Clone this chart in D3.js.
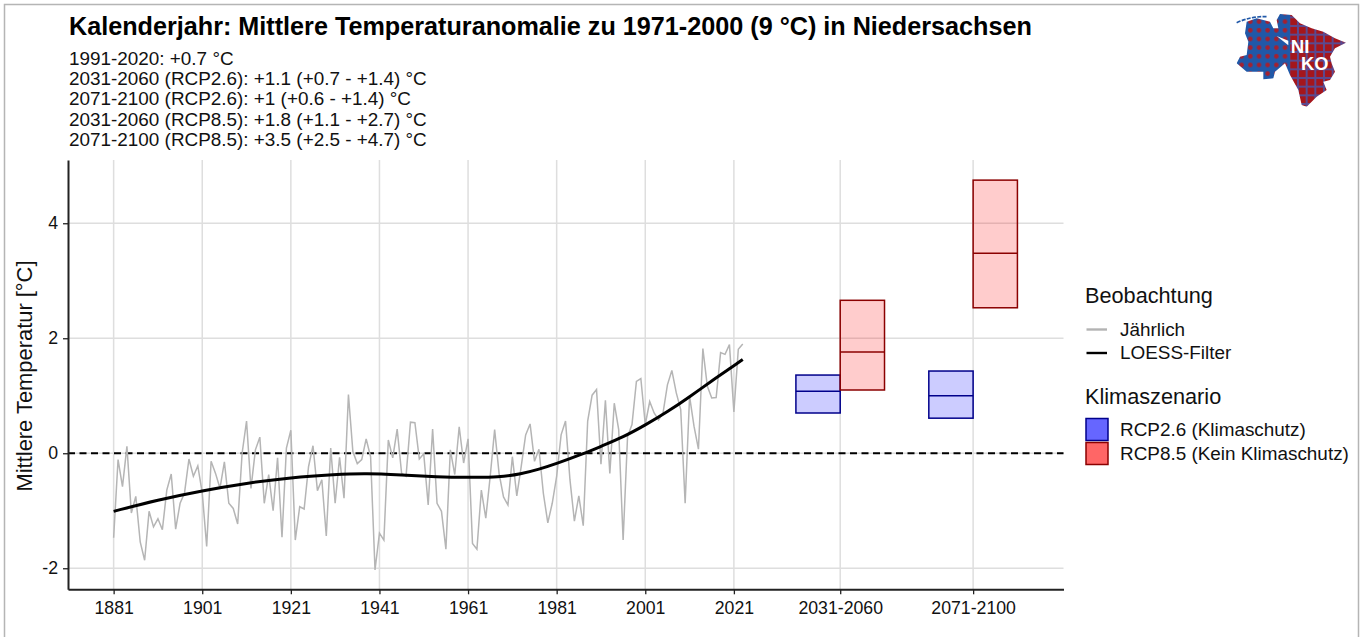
<!DOCTYPE html>
<html>
<head>
<meta charset="utf-8">
<script src="https://cdn.jsdelivr.net/npm/d3@7"></script>
<style>
  body { margin: 0; background: #fff; }
  text { font-family: "Liberation Sans", Arial, sans-serif; fill: #111; }
</style>
</head>
<body>
<svg></svg>
<script>
var titleText = "Kalenderjahr: Mittlere Temperaturanomalie zu 1971-2000 (9 °C) in Niedersachsen";
var subtitleLines = [
    "1991-2020: +0.7 °C",
    "2031-2060 (RCP2.6): +1.1 (+0.7 - +1.4) °C",
    "2071-2100 (RCP2.6): +1 (+0.6 - +1.4) °C",
    "2031-2060 (RCP8.5): +1.8 (+1.1 - +2.7) °C",
    "2071-2100 (RCP8.5): +3.5 (+2.5 - +4.7) °C"
];

// yearly anomaly 1881..2023
var firstYear = 1881;
var annual = [
    -1.47, -0.11, -0.58, 0.12, -1.04, -0.75, -1.54, -1.86, -1.01, -1.28,
    -1.14, -1.33, -0.64, -0.36, -1.32, -0.87, -0.69, -0.10, -0.40, -0.22,
    -0.69, -1.62, -0.14, -0.35, -0.61, -0.15, -0.87, -0.96, -1.23, 0.00,
    0.56, -0.61, 0.06, 0.28, -0.87, -0.37, -1.00, -0.08, -1.46, 0.09,
    0.40, -1.51, -0.93, -0.97, -0.23, 0.13, -0.65, -0.46, -1.44, 0.09,
    -0.87, -0.07, -0.78, 1.02, 0.03, -0.18, -0.11, 0.25, -0.06, -2.03,
    -1.39, -1.51, 0.23, -0.08, 0.42, -0.35, -0.40, 0.54, 0.53, -0.10,
    -0.01, -0.90, 0.42, -0.87, -1.01, -1.67, 0.06, -0.37, 0.46, -0.17,
    0.25, -1.57, -1.67, -0.64, -1.13, -0.40, 0.41, -0.35, -0.76, -0.90,
    -0.06, -0.74, -0.23, 0.32, 0.51, -0.14, 0.07, -0.70, -1.21, -0.87,
    -0.40, 0.32, 0.56, -0.46, -1.18, -0.74, -1.26, 0.56, 1.01, 1.11,
    -0.19, 0.92, -0.35, 0.87, 0.41, -1.51, 0.29, 0.50, 1.25, 1.30,
    0.50, 0.90, 0.70, 0.58, 0.70, 1.19, 1.44, 1.05, 0.76, -0.87,
    0.99, 0.47, 0.07, 1.82, 1.17, 0.96, 0.97, 1.75, 1.72, 1.89,
    0.72, 1.81, 1.90
];

var loessYears = [1881, 1891, 1901, 1911, 1921, 1931, 1938, 1946, 1954, 1961, 1968, 1973, 1977, 1981, 1987, 1991, 1996, 2001, 2006, 2011, 2016, 2021, 2023];
var loessValues = [-1.01, -0.81, -0.65, -0.52, -0.42, -0.37, -0.35, -0.38, -0.41, -0.42, -0.42, -0.36, -0.28, -0.18, -0.01, 0.12, 0.28, 0.49, 0.72, 0.98, 1.26, 1.52, 1.63];

var periodCenters = [2045, 2075];
var periodLabels = ["2031-2060", "2071-2100"];
// low, median, high per period
var rcp26Low = [0.70, 0.61], rcp26Mid = [1.08, 1.00], rcp26High = [1.36, 1.43];
var rcp85Low = [1.10, 2.53], rcp85Mid = [1.76, 3.48], rcp85High = [2.66, 4.75];

var yearTicks = [1881, 1901, 1921, 1941, 1961, 1981, 2001, 2021];
var yTicks = [-2, 0, 2, 4];

var svg = d3.select("svg").attr("width", 1363).attr("height", 637).style("display", "block");

var panel = { left: 68, right: 1063.5, top: 160, bottom: 589.3 };

var xScale = d3.scaleLinear().domain([1870.7, 2095.4]).range([panel.left, panel.right]);
var yScale = d3.scaleLinear().domain([-2.366, 5.1]).range([panel.bottom, panel.top]);

// grey frame of the screenshot, open at the bottom
svg.append("path")
    .attr("d", "M4.5,637V4.5H1358.5V637")
    .style("fill", "none")
    .style("stroke", "#b5b5b5")
    .style("stroke-width", 1.5);

// grid
var gridColor = "#dedede";
svg.append("g").selectAll("line")
    .data(yTicks)
    .enter().append("line")
    .attr("x1", panel.left).attr("x2", panel.right)
    .attr("y1", function (d) { return yScale(d); })
    .attr("y2", function (d) { return yScale(d); })
    .style("stroke", gridColor).style("stroke-width", 1.5);

svg.append("g").selectAll("line")
    .data(yearTicks.concat(periodCenters))
    .enter().append("line")
    .attr("y1", panel.top).attr("y2", panel.bottom)
    .attr("x1", function (d) { return xScale(d); })
    .attr("x2", function (d) { return xScale(d); })
    .style("stroke", gridColor).style("stroke-width", 1.5);

// scenario boxes
function drawBoxes(low, mid, high, from, to, fill, stroke) {
    var g = svg.append("g");
    periodCenters.forEach(function (c, i) {
        g.append("rect")
            .attr("x", xScale(c + from))
            .attr("width", xScale(c + to) - xScale(c + from))
            .attr("y", yScale(high[i]))
            .attr("height", yScale(low[i]) - yScale(high[i]))
            .style("fill", fill)
            .style("stroke", stroke)
            .style("stroke-width", 1.5);
        g.append("line")
            .attr("x1", xScale(c + from)).attr("x2", xScale(c + to))
            .attr("y1", yScale(mid[i])).attr("y2", yScale(mid[i]))
            .style("stroke", stroke)
            .style("stroke-width", 1.5);
    });
}
drawBoxes(rcp26Low, rcp26Mid, rcp26High, -10, 0, "rgba(0,0,255,0.2)", "#00008b");
drawBoxes(rcp85Low, rcp85Mid, rcp85High, 0, 10, "rgba(255,0,0,0.2)", "#8b0000");

// zero line
svg.append("line")
    .attr("x1", panel.left).attr("x2", panel.right)
    .attr("y1", yScale(0)).attr("y2", yScale(0))
    .style("stroke", "#000")
    .style("stroke-width", 2)
    .style("stroke-dasharray", "7,4.5");

// observations
var line = d3.line()
    .x(function (d, i) { return xScale(firstYear + i); })
    .y(function (d) { return yScale(d); });

svg.append("path")
    .datum(annual)
    .attr("d", line)
    .style("fill", "none")
    .style("stroke", "#b5b5b5")
    .style("stroke-width", 1.5);

var loessLine = d3.line()
    .x(function (d, i) { return xScale(loessYears[i]); })
    .y(function (d) { return yScale(d); })
    .curve(d3.curveBasis);

svg.append("path")
    .datum(loessValues)
    .attr("d", loessLine)
    .style("fill", "none")
    .style("stroke", "#000")
    .style("stroke-width", 3);

// axes
var xAxis = d3.axisBottom(xScale)
    .tickValues(yearTicks.concat(periodCenters))
    .tickSize(5)
    .tickSizeOuter(0)
    .tickPadding(7)
    .tickFormat(function (d) {
        var i = periodCenters.indexOf(d);
        return i >= 0 ? periodLabels[i] : String(d);
    });

var yAxis = d3.axisLeft(yScale)
    .tickValues(yTicks)
    .tickSize(5)
    .tickSizeOuter(0)
    .tickPadding(5)
    .tickFormat(function (d) { return d < 0 ? "-" + Math.abs(d) : d; });

var gx = svg.append("g").attr("transform", "translate(0," + panel.bottom + ")").call(xAxis);
var gy = svg.append("g").attr("transform", "translate(" + panel.left + ",0)").call(yAxis);

[gx, gy].forEach(function (g) {
    g.selectAll("text").style("font-size", "17.7px").style("font-family", '"Liberation Sans", Arial, sans-serif').style("fill", "#111");
    g.selectAll("line").style("stroke", "#222").style("stroke-width", 1.3);
    g.select(".domain").style("stroke", "#222").style("stroke-width", 2);
});

// Y label
svg.append("text")
    .attr("text-anchor", "middle")
    .attr("transform", "translate(32,376)rotate(-90)")
    .style("font-size", "21.9px")
    .text("Mittlere Temperatur [°C]");

// Title
svg.append("text")
    .attr("x", 69).attr("y", 35)
    .style("font-size", "25.2px")
    .style("font-weight", "bold")
    .style("fill", "#000")
    .text(titleText);

svg.append("g").selectAll("text")
    .data(subtitleLines)
    .enter().append("text")
    .attr("x", 69)
    .attr("y", function (d, i) { return 64.5 + i * 20.4; })
    .style("font-size", "18.9px")
    .text(function (d) { return d; });

// legend
var legend = svg.append("g");
legend.append("text").attr("x", 1085).attr("y", 303).style("font-size", "21.7px").text("Beobachtung");
legend.append("text").attr("x", 1085).attr("y", 404).style("font-size", "21.7px").text("Klimaszenario");

var lineKeys = [
    { label: "Jährlich", y: 329.5, color: "#b3b3b3" },
    { label: "LOESS-Filter", y: 353, color: "#000" }
];
lineKeys.forEach(function (k) {
    legend.append("line")
        .attr("x1", 1086.5).attr("x2", 1107)
        .attr("y1", k.y).attr("y2", k.y)
        .style("stroke", k.color).style("stroke-width", 2.4);
    legend.append("text").attr("x", 1120).attr("y", k.y + 6).style("font-size", "18.9px").text(k.label);
});

var boxKeys = [
    { label: "RCP2.6 (Klimaschutz)", y: 418.5, fill: "#6666ff", stroke: "#00008b" },
    { label: "RCP8.5 (Kein Klimaschutz)", y: 442.5, fill: "#ff6666", stroke: "#8b0000" }
];
boxKeys.forEach(function (k) {
    legend.append("rect")
        .attr("x", 1086).attr("y", k.y)
        .attr("width", 22).attr("height", 22)
        .style("fill", k.fill).style("stroke", k.stroke).style("stroke-width", 1.5);
    legend.append("text").attr("x", 1120).attr("y", k.y + 17.5).style("font-size", "18.9px").text(k.label);
});

// NIKO logo, drawn at 3x and scaled down
var logoOutline = [
    [80, 65], [110, 55], [150, 65], [160, 85], [175, 85], [170, 60], [180, 42], [215, 45],
    [240, 70], [275, 85], [310, 95], [345, 115], [378, 128], [345, 145], [330, 170], [335, 190],
    [345, 215], [330, 240], [310, 245], [320, 270], [290, 290], [260, 320], [245, 315], [235, 270],
    [210, 225], [195, 190], [165, 215], [160, 235], [130, 238], [130, 215], [80, 215], [50, 190],
    [60, 170], [80, 165], [85, 125], [75, 100]
];
var defs = svg.append("defs");
defs.append("clipPath").attr("id", "logoClip")
    .append("polygon").attr("points", logoOutline.join(" "));

var logoBlue = defs.append("pattern").attr("id", "logoBlue")
    .attr("patternUnits", "userSpaceOnUse").attr("width", 26).attr("height", 26);
logoBlue.append("rect").attr("width", 26).attr("height", 26).style("fill", "#2058a8");
logoBlue.append("circle").attr("cx", 13).attr("cy", 13).attr("r", 7).style("fill", "#a5202f");

var logoRed = defs.append("pattern").attr("id", "logoRed")
    .attr("patternUnits", "userSpaceOnUse").attr("width", 26).attr("height", 26);
logoRed.append("rect").attr("width", 26).attr("height", 26).style("fill", "#5a4a90");
logoRed.append("rect").attr("x", 3).attr("y", 3).attr("width", 20).attr("height", 20).style("fill", "#a5161c");

var logo = svg.append("g").attr("transform", "translate(1220,0) scale(0.3333)");
var logoInner = logo.append("g").attr("clip-path", "url(#logoClip)");
logoInner.append("rect").attr("x", 40).attr("y", 30).attr("width", 170).attr("height", 300).style("fill", "url(#logoBlue)");
logoInner.append("rect").attr("x", 210).attr("y", 30).attr("width", 180).attr("height", 300).style("fill", "url(#logoRed)");
logo.append("path").attr("d", "M50,68 Q95,48 140,50")
    .style("fill", "none").style("stroke", "#2058a8").style("stroke-width", 5).style("stroke-dasharray", "12,4");
logo.append("path").attr("d", "M170,108 L205,122 L205,136 Z").style("fill", "#fff");
logo.append("text").attr("x", 212).attr("y", 160).style("font-size", "56px").style("font-weight", "bold").style("fill", "#fff").text("NI");
logo.append("text").attr("x", 243).attr("y", 210).style("font-size", "55px").style("font-weight", "bold").style("fill", "#fff").text("KO");
</script>
</body>
</html>
